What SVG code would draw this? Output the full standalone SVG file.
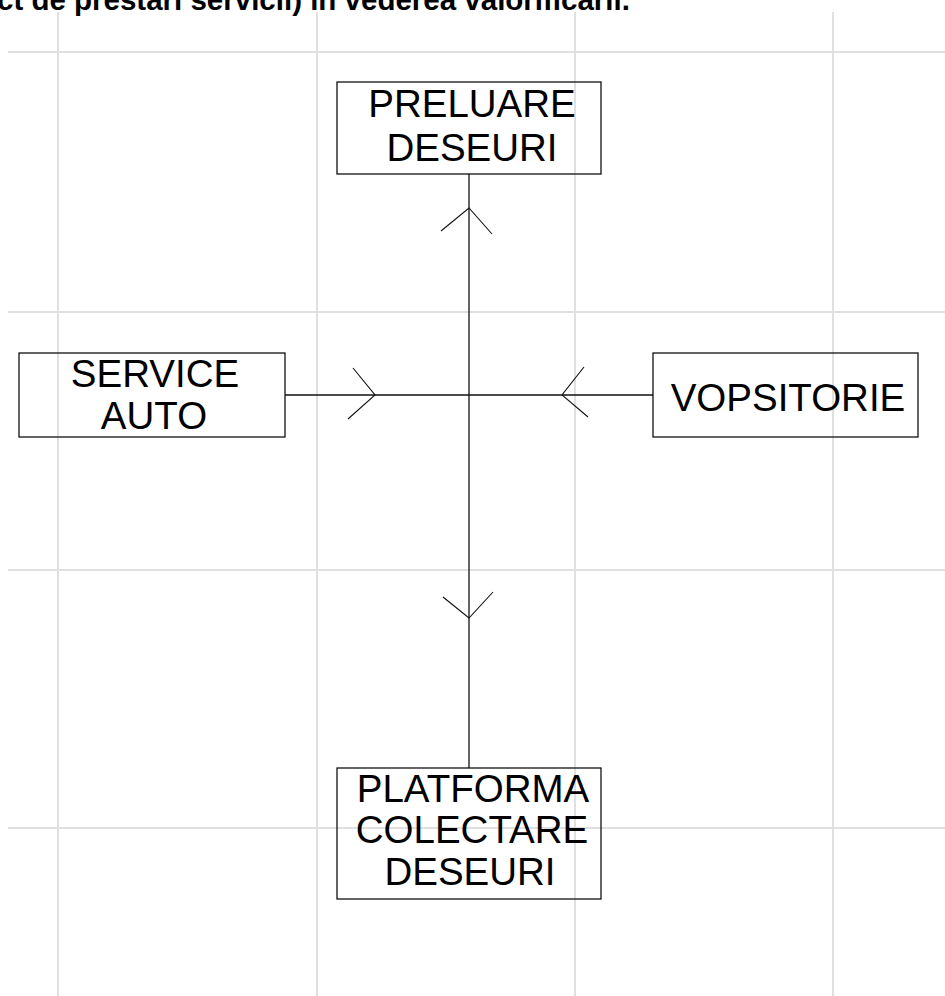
<svg xmlns="http://www.w3.org/2000/svg" width="945" height="996" viewBox="0 0 945 996">
<style>
.grid{stroke:#e0e0e0;stroke-width:2;fill:none}
.box{fill:none;stroke:#111;stroke-width:1.3}
.lbl{font-family:"Liberation Sans",Arial,sans-serif;font-size:38.5px;fill:#000;text-anchor:middle}
.title{font-family:"Liberation Sans",Arial,sans-serif;font-size:29.5px;font-weight:bold;fill:#000}
.con{stroke:#111;stroke-width:1.3;fill:none}
.head{stroke:#111;stroke-width:1.1;fill:none}
</style>
<rect width="945" height="996" fill="#fff"/>
<g id="grid">
<line class="grid" x1="58" y1="12" x2="58" y2="996"/>
<line class="grid" x1="317" y1="12" x2="317" y2="996"/>
<line class="grid" x1="575" y1="12" x2="575" y2="996"/>
<line class="grid" x1="833" y1="12" x2="833" y2="996"/>
<line class="grid" x1="8" y1="52" x2="945" y2="52"/>
<line class="grid" x1="8" y1="312" x2="945" y2="312"/>
<line class="grid" x1="8" y1="570" x2="945" y2="570"/>
<line class="grid" x1="8" y1="828" x2="945" y2="828"/>
</g>
<text class="title" x="-3" y="10">ct de prestari servicii) in vederea valorificarii.</text>
<g id="connectors">
<line class="con" x1="469" y1="174" x2="469" y2="768"/>
<line class="con" x1="285" y1="395" x2="653" y2="395"/>
<polyline class="head" points="441,231 469,208 492,234"/>
<polyline class="head" points="443,597 469,618 493,592"/>
<polyline class="head" points="353,368 375,395 348,419"/>
<polyline class="head" points="584,367 562,395 588,417"/>
</g>
<g id="preluare">
<rect class="box" x="337" y="82" width="264" height="92"/>
<text class="lbl" x="472" y="117">PRELUARE</text>
<text class="lbl" x="472" y="161">DESEURI</text>
</g>
<g id="service">
<rect class="box" x="19" y="353" width="266" height="84"/>
<text class="lbl" x="155" y="387">SERVICE</text>
<text class="lbl" x="154" y="429">AUTO</text>
</g>
<g id="vopsitorie">
<rect class="box" x="653" y="353" width="265" height="84"/>
<text class="lbl" x="788" y="411">VOPSITORIE</text>
</g>
<g id="platforma">
<rect class="box" x="337" y="768" width="264" height="131"/>
<text class="lbl" x="473" y="802">PLATFORMA</text>
<text class="lbl" x="472" y="843">COLECTARE</text>
<text class="lbl" x="470" y="885">DESEURI</text>
</g>
</svg>
